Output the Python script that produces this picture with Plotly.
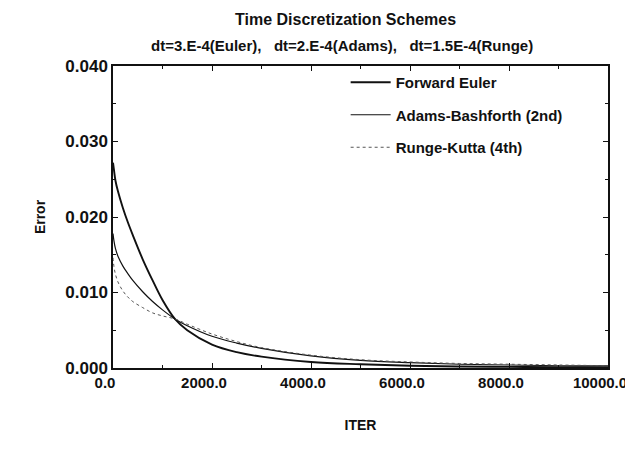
import plotly.graph_objects as go

iters = [0, 20, 50, 100, 200, 300, 400, 600, 800, 1000, 1250, 1500, 2000, 2500,
         3000, 4000, 5000, 6000, 7000, 8000, 9000, 10000]
euler = [0.0272, 0.0262, 0.0248, 0.0234, 0.0212, 0.0193, 0.0176, 0.0144, 0.0116,
         0.0090, 0.0065, 0.0050, 0.0031, 0.0021, 0.0015, 0.0008, 0.0005, 0.0003,
         0.0002, 0.00015, 0.0001, 0.0001]
adams = [0.0178, 0.0168, 0.0158, 0.0148, 0.0135, 0.0125, 0.0116, 0.0101, 0.0088,
         0.0077, 0.0065, 0.0056, 0.0042, 0.0033, 0.0026, 0.0016, 0.0010, 0.0007,
         0.0005, 0.0004, 0.0003, 0.0003]
runge = [0.0146, 0.0134, 0.0124, 0.0114, 0.0102, 0.0094, 0.0088, 0.0080, 0.0073,
         0.0069, 0.0065, 0.0058, 0.0045, 0.0035, 0.0027, 0.0017, 0.0011, 0.0008,
         0.0006, 0.0005, 0.0004, 0.0003]

names = ["Forward Euler", "Adams-Bashforth (2nd)", "Runge-Kutta (4th)"]
x_ticks = [0, 2000, 4000, 6000, 8000, 10000]
y_ticks = [0.0, 0.01, 0.02, 0.03, 0.04]

FONT = "Liberation Sans, Arial, Helvetica, sans-serif"
INK = "#111111"

fig = go.Figure()
fig.add_trace(go.Scatter(x=iters, y=euler, mode="lines", name=names[0], legendgroup="a",
                         line=dict(color=INK, width=1.9, shape="spline")))
fig.add_trace(go.Scatter(x=iters, y=adams, mode="lines", name=names[1], legendgroup="b",
                         line=dict(color=INK, width=1.2, shape="spline")))
fig.add_trace(go.Scatter(x=iters, y=runge, mode="lines", name=names[2], legendgroup="c",
                         line=dict(color="#555555", width=1, dash="dot", shape="spline")))

fig.update_layout(
    width=633, height=467,
    margin=dict(l=105, r=33, t=58, b=107),
    paper_bgcolor="white", plot_bgcolor="white",
    font=dict(family=FONT, size=15, color=INK, weight="bold"),
    showlegend=True,
    legend=dict(x=0.47, y=1.0, xanchor="left", yanchor="top", bgcolor="rgba(0,0,0,0)",
                font=dict(size=15, weight="bold"), tracegroupgap=10, itemwidth=40),
    annotations=[
        dict(text="Time Discretization Schemes", x=0.5, y=1.0, xref="paper", yref="paper",
             xanchor="center", yanchor="bottom", yshift=36, xshift=-15, showarrow=False,
             font=dict(size=16, weight="bold")),
        dict(text="dt=3.E-4(Euler),   dt=2.E-4(Adams),   dt=1.5E-4(Runge)", x=0.5, y=1.0,
             xref="paper", yref="paper", xanchor="center", yanchor="bottom", yshift=10,
             xshift=-19, showarrow=False, font=dict(size=15, weight="bold")),
    ],
)
fig.update_xaxes(range=[0, 10000], tickvals=x_ticks, ticktext=[f"{v:.1f}" for v in x_ticks],
                 ticks="inside", ticklen=5, tickcolor=INK, tickfont=dict(size=15, weight="bold"),
                 ticklabeloverflow="allow", ticklabelshift=-8, automargin=False,
                 minor=dict(dtick=1000, ticks="inside", ticklen=3, tickcolor=INK),
                 showline=True, linecolor=INK, linewidth=1.5, mirror="ticks",
                 showgrid=False, zeroline=False,
                 title=dict(text="ITER", standoff=30, font=dict(size=14, weight="bold")))
fig.update_yaxes(range=[0, 0.04], tickvals=y_ticks, ticktext=[f"{v:.3f}" for v in y_ticks],
                 ticks="inside", ticklen=5, tickcolor=INK, tickfont=dict(size=17, weight="bold"),
                 automargin=False,
                 minor=dict(dtick=0.005, ticks="inside", ticklen=3, tickcolor=INK),
                 showline=True, linecolor=INK, linewidth=1.5, mirror="ticks",
                 showgrid=False, zeroline=False,
                 title=dict(text="Error", standoff=16, font=dict(size=14, weight="bold")))

fig.write_html("out.html")
